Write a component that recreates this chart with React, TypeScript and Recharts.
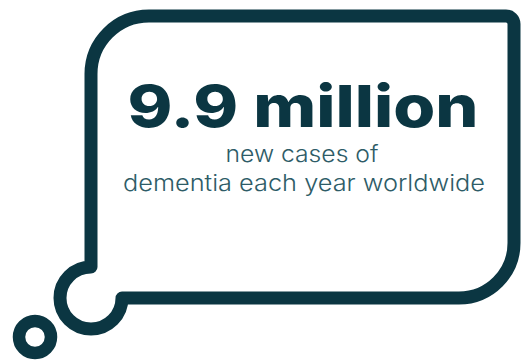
import { ComposedChart, Customized } from 'recharts';

// 카드 문구
const headline = ['9.9 million'];
const subLines = ['new cases of', 'dementia each year worldwide'];

const INK = '#0b3642';
const SUB_INK = '#2e5c67';
const STROKE = 13;

/**
 * 말풍선 (생각 풍선) 외곽선
 */
function Bubble() {
    const d = [
        'M 91 267',
        'L 91 74',
        'A 58 58 0 0 1 149 16',
        'L 506 16',
        'A 8 8 0 0 1 514 24',
        'L 514 243',
        'A 55 55 0 0 1 459 298',
        'L 122 298',
        'A 31 31 0 1 1 91 267',
        'Z'
    ].join(' ');

    return (
        <g>
            <path d={d} fill="none" stroke={INK} strokeWidth={STROKE} strokeLinejoin="round" />
            <circle cx={35} cy={337} r={16} fill="none" stroke={INK} strokeWidth={12.5} />
        </g>
    );
}

function Texts() {
    return (
        <g>
            <text
                x={303}
                y={127}
                textAnchor="middle"
                fill={INK}
                fontFamily="Inter, 'Open Sans', sans-serif"
                fontWeight={800}
                fontSize={58}
                textLength={351}
                lengthAdjust="spacingAndGlyphs">
                {headline[0]}
            </text>
            <text
                x={302}
                y={162}
                textAnchor="middle"
                fill={SUB_INK}
                fontFamily="Inter, 'Open Sans', sans-serif"
                fontWeight={300}
                fontSize={23}
                textLength={153}
                lengthAdjust="spacingAndGlyphs">
                {subLines[0]}
            </text>
            <text
                x={304}
                y={191}
                textAnchor="middle"
                fill={SUB_INK}
                fontFamily="Inter, 'Open Sans', sans-serif"
                fontWeight={300}
                fontSize={23}
                textLength={362}
                lengthAdjust="spacingAndGlyphs">
                {subLines[1]}
            </text>
        </g>
    );
}

export default function App() {
    return (
        <div style={{ position: 'absolute', left: 0, top: 0, width: 522, height: 362, background: '#fff' }}>
            <ComposedChart width={522} height={362} data={[{}]} margin={{ top: 0, right: 0, bottom: 0, left: 0 }}>
                <Customized component={<Bubble />} />
                <Customized component={<Texts />} />
            </ComposedChart>
        </div>
    );
}
